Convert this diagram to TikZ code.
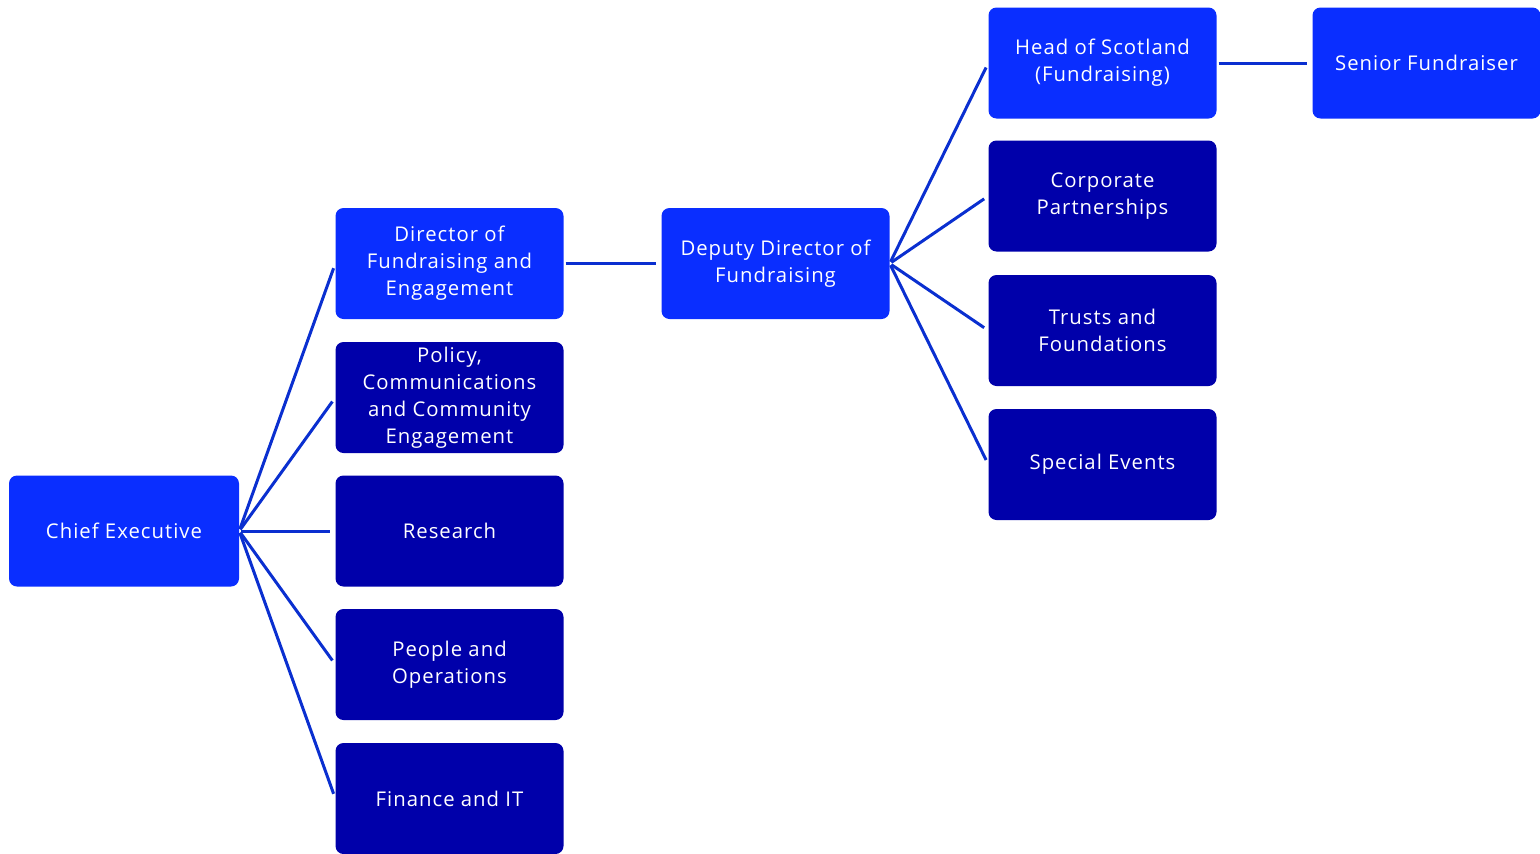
\documentclass[tikz,border=0pt]{standalone}
\usepackage{fontspec}
\setmainfont{Open Sans}[LetterSpace=5]
\definecolor{brightblue}{HTML}{0A2EFF}
\definecolor{darkblue}{HTML}{0000AA}
\definecolor{linkblue}{HTML}{0A2FD0}
\begin{document}
\begin{tikzpicture}[x=1pt,y=-1pt,
  box/.style={rounded corners=8pt, minimum width=228pt, minimum height=111pt, inner sep=0pt,
    text=white, align=center, font=\fontsize{20.3}{27}\selectfont, anchor=center},
  hi/.style={box, fill=brightblue},
  lo/.style={box, fill=darkblue},
  link/.style={draw=linkblue, line width=3pt, shorten <=2pt, shorten >=5pt}]
\useasboundingbox (0,0) rectangle (1540,854);
\node[hi, minimum width=230pt] (ce) at (124,531) {Chief Executive};
\node[hi] (dfe) at (449.5,263.5) {Director of\\Fundraising and\\Engagement};
\node[lo] (pol) at (449.5,397.5) {Policy,\\Communications\\and Community\\Engagement};
\node[lo] (res) at (449.5,531) {Research};
\node[lo] (peo) at (449.5,664.5) {People and\\Operations};
\begin{scope}
\clip (0,0) rectangle (1540,854);
\node[lo] (fin) at (449.5,798.5) {Finance and IT};
\end{scope}
\node[hi] (ddf) at (775.5,263.5) {Deputy Director of\\Fundraising};
\node[hi] (hos) at (1102.5,63) {Head of Scotland\\(Fundraising)};
\node[lo] (cor) at (1102.5,196) {Corporate\\Partnerships};
\node[lo] (tru) at (1102.5,330.5) {Trusts and\\Foundations};
\node[lo] (spe) at (1102.5,464.5) {Special Events};
\node[hi] (sen) at (1426.5,63) {Senior Fundraiser};
\foreach \t in {dfe,pol,res,peo,fin} \draw[link] (ce.east) -- (\t.west);
\draw[link] (dfe.east) -- (ddf.west);
\foreach \t in {hos,cor,tru,spe} \draw[link] (ddf.east) -- (\t.west);
\draw[link] (hos.east) -- (sen.west);
\end{tikzpicture}
\end{document}
